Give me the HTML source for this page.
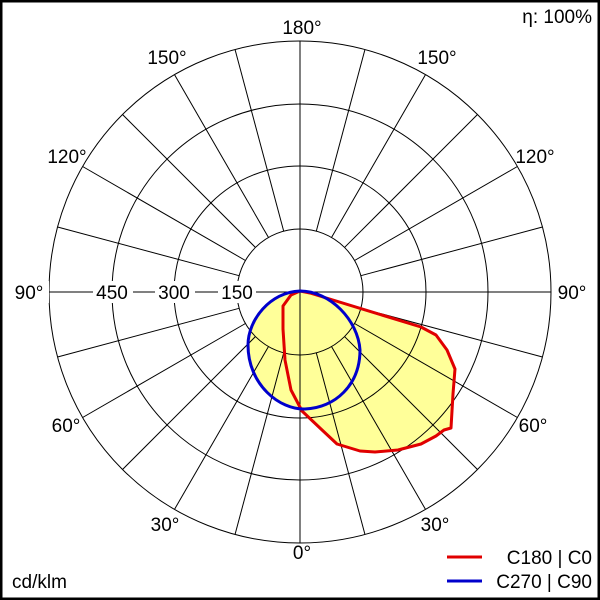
<!DOCTYPE html>
<html><head><style>
html,body{margin:0;padding:0;background:#fff}
svg{display:block}
text{font-family:"Liberation Sans",Arial,sans-serif;font-size:19px;fill:#000}
</style></head><body>
<svg width="600" height="600" viewBox="0 0 600 600" xmlns="http://www.w3.org/2000/svg">
<rect x="1" y="1" width="598" height="598" fill="#fff" stroke="#000" stroke-width="3"/>
<g fill="#ffff99" stroke="none">
<path d="M300,291 L310,293 L421,327 L436,335 L447,350 L455,369 L453,394 L451,428 L444,430 L436,436 L421,444 L398,450 L375,452 L360,451 L337,444 L321,429 L302,411 L291,390 L285,360 L283,329 L283,306 L291,295 Z"/>
<path d="M300,291 C270,292 248,320 248,345 C248,385 280,410 305,409 C335,408 360,385 360,350 C358,320 330,291 300,291Z"/>
</g>
<g fill="none" stroke="#000" stroke-width="1">
<circle cx="300" cy="292" r="63"/>
<circle cx="300" cy="292" r="126"/>
<circle cx="300" cy="292" r="188"/>
<circle cx="300" cy="292" r="251"/>
<line x1="300" y1="41" x2="300" y2="543"/>
<line x1="49" y1="292" x2="551" y2="292"/>
<g>
<line x1="300" y1="355" x2="300" y2="543" transform="rotate(15 300 292)"/>
<line x1="300" y1="355" x2="300" y2="543" transform="rotate(30 300 292)"/>
<line x1="300" y1="355" x2="300" y2="543" transform="rotate(45 300 292)"/>
<line x1="300" y1="355" x2="300" y2="543" transform="rotate(60 300 292)"/>
<line x1="300" y1="355" x2="300" y2="543" transform="rotate(75 300 292)"/>
<line x1="300" y1="355" x2="300" y2="543" transform="rotate(105 300 292)"/>
<line x1="300" y1="355" x2="300" y2="543" transform="rotate(120 300 292)"/>
<line x1="300" y1="355" x2="300" y2="543" transform="rotate(135 300 292)"/>
<line x1="300" y1="355" x2="300" y2="543" transform="rotate(150 300 292)"/>
<line x1="300" y1="355" x2="300" y2="543" transform="rotate(165 300 292)"/>
<line x1="300" y1="355" x2="300" y2="543" transform="rotate(-15 300 292)"/>
<line x1="300" y1="355" x2="300" y2="543" transform="rotate(-30 300 292)"/>
<line x1="300" y1="355" x2="300" y2="543" transform="rotate(-45 300 292)"/>
<line x1="300" y1="355" x2="300" y2="543" transform="rotate(-60 300 292)"/>
<line x1="300" y1="355" x2="300" y2="543" transform="rotate(-75 300 292)"/>
<line x1="300" y1="355" x2="300" y2="543" transform="rotate(-105 300 292)"/>
<line x1="300" y1="355" x2="300" y2="543" transform="rotate(-120 300 292)"/>
<line x1="300" y1="355" x2="300" y2="543" transform="rotate(-135 300 292)"/>
<line x1="300" y1="355" x2="300" y2="543" transform="rotate(-150 300 292)"/>
<line x1="300" y1="355" x2="300" y2="543" transform="rotate(-165 300 292)"/>
</g>
</g>
<path d="M300,291 L310,293 L421,327 L436,335 L447,350 L455,369 L453,394 L451,428 L444,430 L436,436 L421,444 L398,450 L375,452 L360,451 L337,444 L321,429 L302,411 L291,390 L285,360 L283,329 L283,306 L291,295 Z" fill="none" stroke="#e00000" stroke-width="3" stroke-linejoin="round"/>
<path d="M300,291 C270,292 248,320 248,345 C248,385 280,410 305,409 C335,408 360,385 360,350 C358,320 330,291 300,291Z" fill="none" stroke="#0000cc" stroke-width="3"/>
<g fill="#fff">
<rect x="93" y="281" width="40" height="22"/>
<rect x="155" y="281" width="40" height="22"/>
<rect x="218" y="281" width="38" height="22"/>
<rect x="6" y="281" width="43" height="22"/>
<rect x="552" y="281" width="43" height="22"/>
</g>
<text x="112" y="299" text-anchor="middle">450</text>
<text x="174" y="299" text-anchor="middle">300</text>
<text x="237" y="299" text-anchor="middle">150</text>
<text x="302" y="34" text-anchor="middle">180°</text>
<text x="167" y="64" text-anchor="middle">150°</text>
<text x="437" y="64" text-anchor="middle">150°</text>
<text x="67" y="163" text-anchor="middle">120°</text>
<text x="535" y="163" text-anchor="middle">120°</text>
<text x="29" y="299" text-anchor="middle">90°</text>
<text x="572" y="299" text-anchor="middle">90°</text>
<text x="66" y="432" text-anchor="middle">60°</text>
<text x="533" y="432" text-anchor="middle">60°</text>
<text x="165" y="531" text-anchor="middle">30°</text>
<text x="435" y="531" text-anchor="middle">30°</text>
<text x="302" y="559" text-anchor="middle">0°</text>
<text x="592" y="23" text-anchor="end">η: 100%</text>
<text x="12" y="588">cd/klm</text>
<line x1="447" y1="557" x2="482" y2="557" stroke="#e00000" stroke-width="3"/>
<line x1="447" y1="581" x2="482" y2="581" stroke="#0000cc" stroke-width="3"/>
<text x="592" y="564" text-anchor="end">C180 | C0</text>
<text x="592" y="588" text-anchor="end">C270 | C90</text>
</svg>
</body></html>
